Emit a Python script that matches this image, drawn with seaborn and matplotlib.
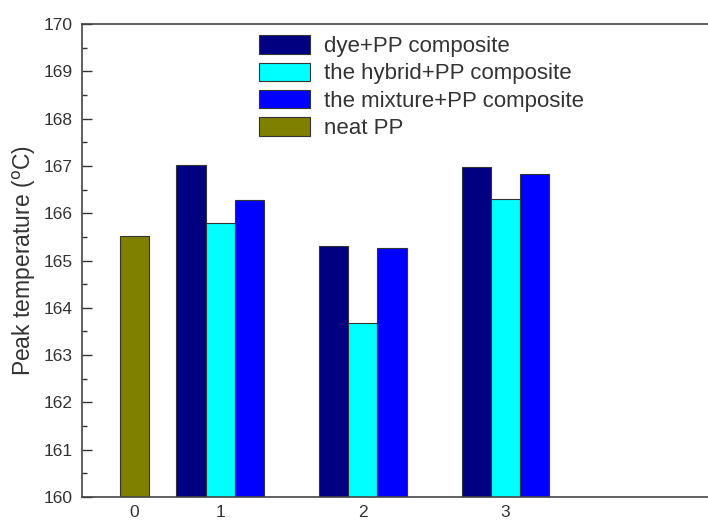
import numpy as np
import pandas as pd
import matplotlib
matplotlib.use("Agg")
import matplotlib.pyplot as plt
from matplotlib.ticker import MultipleLocator
import seaborn as sns

# data
group_labels = ["0", "1", "2", "3"]
group_pos = [0.4, 1, 2, 3]
neat_pp = [165.52]
dye_pp = [167.02, 165.30, 166.98]
hybrid_pp = [165.80, 163.68, 166.30]
mixture_pp = [166.28, 165.27, 166.84]

sns.set_style("ticks")
plt.rcParams["font.family"] = ["Liberation Sans", "DejaVu Sans"]

fig = plt.figure(figsize=(7.08, 5.24), dpi=100)
ax = fig.add_axes([0.116, 0.0515, 0.884, 0.9025])

w = 0.205
series = [
    ("dye+PP composite", dye_pp, -w, "#000080"),
    ("the hybrid+PP composite", hybrid_pp, 0.0, "#00FFFF"),
    ("the mixture+PP composite", mixture_pp, w, "#0000FF"),
]
for name, vals, off, col in series:
    df = pd.DataFrame({"x": [p + off for p in group_pos[1:]], "y": vals})
    sns.barplot(data=df, x="x", y="y", native_scale=True, width=w, color=col,
                saturation=1, edgecolor="#333333", linewidth=0.8, label=name, ax=ax)

df0 = pd.DataFrame({"x": group_pos[:1], "y": neat_pp})
sns.barplot(data=df0, x="x", y="y", native_scale=True, width=w, color="#808000",
            saturation=1, edgecolor="#333333", linewidth=0.8, label="neat PP", ax=ax)

ax.set_ylim(160, 170)
ax.set_xlim(0.032, 4.42)
ax.yaxis.set_major_locator(MultipleLocator(1))
ax.yaxis.set_minor_locator(MultipleLocator(0.5))
ax.set_xticks(group_pos)
ax.set_xticklabels(group_labels)
ax.tick_params(axis="y", which="major", direction="in", length=7, width=1, labelsize=12.5,
               pad=7, colors="#333333")
ax.tick_params(axis="y", which="minor", direction="in", length=3.5, width=1, colors="#333333")
ax.tick_params(axis="x", length=0, labelsize=12.5, pad=6, colors="#333333")
ax.set_xlabel("")
ax.set_ylabel("Peak temperature ($^{\\rm o}$C)", fontsize=16.5, color="#333333", labelpad=4)

for side in ["left", "bottom", "top"]:
    ax.spines[side].set_color("#444444")
    ax.spines[side].set_linewidth(1.2)
ax.spines["right"].set_visible(False)

ax.legend(loc="upper left", bbox_to_anchor=(0.3535, 0.95), bbox_transform=fig.transFigure,
          frameon=False, fontsize=16, handlelength=2.3, handleheight=0.9,
          handletextpad=0.6, labelspacing=0.25, borderaxespad=0, labelcolor="#333333")

fig.savefig("out.png", dpi=100)
